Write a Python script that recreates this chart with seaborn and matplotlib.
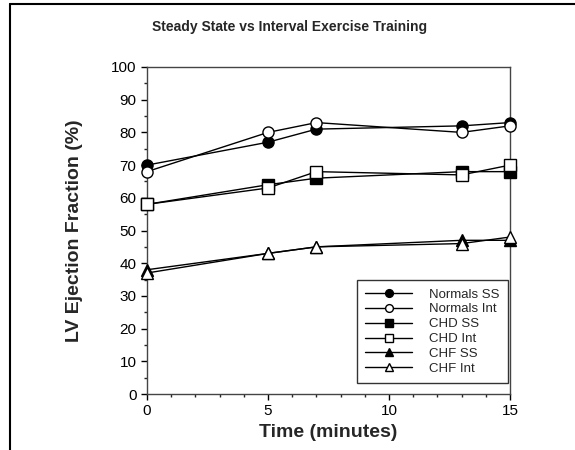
import numpy as np
import pandas as pd
import matplotlib
matplotlib.use("Agg")
import matplotlib.pyplot as plt
import seaborn as sns
from matplotlib.lines import Line2D
from matplotlib.ticker import MultipleLocator

# data
time = [0, 5, 7, 13, 15]
normals_ss = [70, 77, 81, 82, 83]
normals_int = [68, 80, 83, 80, 82]
chd_ss = [58, 64, 66, 68, 68]
chd_int = [58, 63, 68, 67, 70]
chf_ss = [38, 43, 45, 47, 47]
chf_int = [37, 43, 45, 46, 48]

series = [
    ("Normals SS", normals_ss, "o", "black"),
    ("Normals Int", normals_int, "o", "white"),
    ("CHD SS", chd_ss, "s", "black"),
    ("CHD Int", chd_int, "s", "white"),
    ("CHF SS", chf_ss, "^", "black"),
    ("CHF Int", chf_int, "^", "white"),
]

sns.set_style("ticks")
plt.rcParams['font.family'] = ['Liberation Sans', 'DejaVu Sans']

fig = plt.figure(figsize=(5.75, 4.5), dpi=100)
ax = fig.add_axes([147/575, 1-394/450, (510-147)/575, (394-67)/450])

for name, vals, mk, face in series:
    df = pd.DataFrame({'time': time, 'ef': vals})
    sns.lineplot(data=df, x='time', y='ef', ax=ax, color='black', lw=1,
                 marker=mk, markersize=8, markerfacecolor=face,
                 markeredgecolor='black', markeredgewidth=1, label=name,
                 clip_on=False, zorder=3)

ax.set_xlim(0, 15)
ax.set_ylim(0, 100)
ax.xaxis.set_major_locator(MultipleLocator(5))
ax.xaxis.set_minor_locator(MultipleLocator(1))
ax.yaxis.set_major_locator(MultipleLocator(10))
ax.yaxis.set_minor_locator(MultipleLocator(5))
ax.tick_params(which='major', length=4, width=1, labelsize=11, colors='black')
ax.tick_params(which='minor', length=2, width=1)
for s in ax.spines.values():
    s.set_color('#444444')
    s.set_linewidth(1)

ax.set_xlabel('Time (minutes)', fontsize=14, fontweight='bold', labelpad=4)
ax.set_ylabel('LV Ejection Fraction (%)', fontsize=14, fontweight='bold', labelpad=20)

leg = ax.legend(loc='lower right', bbox_to_anchor=(0.994, 0.034), borderaxespad=0,
                frameon=True, fancybox=False, edgecolor='black', fontsize=9.5,
                handlelength=3.6, labelspacing=0.2, borderpad=0.6,
                handletextpad=1.3, markerscale=0.7)
leg.get_frame().set_linewidth(1)

fig.text(290/575, 1-27/450, 'Steady State vs Interval Exercise Training',
         ha='center', va='center', fontsize=10, fontweight='bold')

# page frame lines (left and top)
fig.add_artist(Line2D([10/575, 10/575], [0, 1-4/450], color='black', lw=1.5,
                      transform=fig.transFigure))
fig.add_artist(Line2D([10/575, 1], [1-4/450, 1-4/450], color='black', lw=1.5,
                      transform=fig.transFigure))

fig.savefig('out.png', dpi=100)
